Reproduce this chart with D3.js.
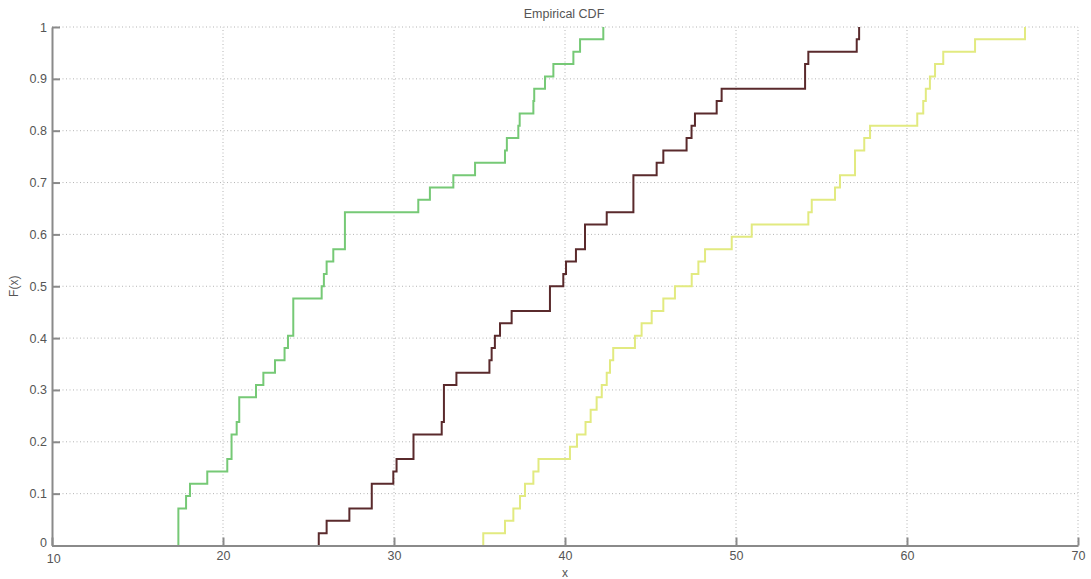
<!DOCTYPE html>
<html>
<head>
<meta charset="utf-8">
<script src="https://cdn.jsdelivr.net/npm/d3@7"></script>
<style>
  html, body { margin: 0; padding: 0; background: #fff; }
  svg { display: block; }
  text { font-family: "Liberation Sans", Arial, sans-serif; }
</style>
</head>
<body>
<svg id="chart" width="1091" height="579"></svg>
<script>
// ---- data (sample values; repeats = multi-step jumps) ----
const titleText = "Empirical CDF";
const xLabel = "x";
const yLabel = "F(x)";
const xTicks = [10, 20, 30, 40, 50, 60, 70];
const yTicks = [0, 0.1, 0.2, 0.3, 0.4, 0.5, 0.6, 0.7, 0.8, 0.9, 1];

const greenSample = [17.39, 17.39, 17.39, 17.84, 18.07, 19.08, 20.25, 20.5, 20.5, 20.8,
  20.95, 20.95, 21.93, 22.36, 23.04, 23.6, 23.8, 24.11, 24.11, 24.11, 25.77, 25.9,
  26.06, 26.45, 27.13, 27.13, 27.13, 31.42, 32.1, 33.47, 34.74, 36.49, 36.6, 37.27,
  37.35, 38.15, 38.2, 38.83, 39.32, 40.49, 40.88, 42.24];

const maroonSample = [25.6, 26.06, 27.39, 28.7, 28.7, 29.96, 30.15, 31.14, 31.14, 32.79,
  32.92, 32.92, 32.92, 33.65, 35.58, 35.71, 35.9, 36.2, 36.88, 39.12, 39.12, 39.9,
  40.06, 40.64, 41.17, 41.17, 42.44, 44.0, 44.0, 44.0, 45.36, 45.75, 47.11, 47.4,
  47.6, 48.87, 49.16, 54.04, 54.04, 54.23, 57.06, 57.2];

const yellowSample = [35.22, 36.49, 36.98, 37.37, 37.66, 38.15, 38.45, 40.29, 40.7, 41.2,
  41.5, 41.85, 42.15, 42.44, 42.63, 42.82, 44.09, 44.48, 45.07, 45.75, 46.43, 47.41,
  47.8, 48.19, 49.75, 50.92, 54.23, 54.43, 55.79, 56.08, 56.96, 56.96, 57.5, 57.84,
  60.6, 60.95, 61.1, 61.34, 61.64, 62.12, 63.98, 66.9];

const seriesNames = ["green", "maroon", "yellow"];
const seriesSamples = [greenSample, maroonSample, yellowSample];
const seriesColors = ["#76c976", "#5a2a2c", "#e2ea80"];

// ---- layout ----
const svg = d3.select("#chart");
const x = d3.scaleLinear().domain([10, 70]).range([52, 1078]);
const y = d3.scaleLinear().domain([0, 1]).range([545.5, 27]);

// grid
const grid = svg.append("g");
grid.selectAll("line.gx").data(xTicks.slice(1)).join("line")
  .attr("x1", d => x(d)).attr("x2", d => x(d))
  .attr("y1", y(0)).attr("y2", y(1))
  .attr("stroke", "#b4b4b4").attr("stroke-width", 1)
  .attr("stroke-dasharray", "1,2.5");
grid.selectAll("line.gy").data(yTicks.slice(1)).join("line")
  .attr("y1", d => y(d)).attr("y2", d => y(d))
  .attr("x1", x(10)).attr("x2", x(70))
  .attr("stroke", "#b4b4b4").attr("stroke-width", 1)
  .attr("stroke-dasharray", "1,2.5");

// ECDF step lines
function ecdfPoints(sample) {
  const s = sample.slice().sort(d3.ascending);
  const n = s.length;
  const pts = [[s[0], 0]];
  const groups = d3.rollups(s, v => v.length, d => d).sort((a, b) => a[0] - b[0]);
  let c = 0;
  groups.forEach(([v, k]) => { c += k; pts.push([v, c / n]); });
  return pts;
}
const line = d3.line().x(d => x(d[0])).y(d => y(d[1])).curve(d3.curveStepAfter);
seriesSamples.forEach((s, i) => {
  svg.append("path")
    .datum(ecdfPoints(s))
    .attr("class", "series " + seriesNames[i])
    .attr("fill", "none")
    .attr("stroke", seriesColors[i])
    .attr("stroke-width", 2)
    .attr("d", line);
});

// axes
const axisColor = "#8a8a8a";
const xAxis = d3.axisBottom(x).tickValues(xTicks).tickSizeInner(-8).tickSizeOuter(0)
  .tickPadding(6).tickFormat(d3.format("d"));
const yAxis = d3.axisLeft(y).tickValues(yTicks).tickSizeInner(-8).tickSizeOuter(0)
  .tickPadding(5).tickFormat(d3.format("~g"));

const gx = svg.append("g").attr("transform", `translate(0,${y(0)})`).call(xAxis);
const gy = svg.append("g").attr("transform", `translate(${x(10)},0)`).call(yAxis);
[gx, gy].forEach(g => {
  g.select(".domain").attr("stroke", axisColor).attr("stroke-width", 2);
  g.selectAll(".tick line").attr("stroke", axisColor).attr("stroke-width", 2);
  g.selectAll(".tick text").attr("fill", "#555").attr("font-size", 12.5)
    .style("font-family", "'Liberation Sans', Arial, sans-serif");
});
gx.selectAll(".tick text").filter(d => d === 10).attr("dx", "0.1em").attr("dy", "0.95em");
gy.selectAll(".tick text").filter(d => d === 0).attr("dy", "0.1em");

// titles
svg.append("text").attr("x", 564).attr("y", 18).attr("text-anchor", "middle")
  .attr("font-size", 12.5).attr("fill", "#555").text(titleText);
svg.append("text").attr("transform", `translate(18,${y(0.5)}) rotate(-90)`)
  .attr("text-anchor", "middle").attr("font-size", 12).attr("fill", "#555").text(yLabel);
svg.append("text").attr("x", 565).attr("y", 577).attr("text-anchor", "middle")
  .attr("font-size", 12).attr("fill", "#555").text(xLabel);
</script>
</body>
</html>
